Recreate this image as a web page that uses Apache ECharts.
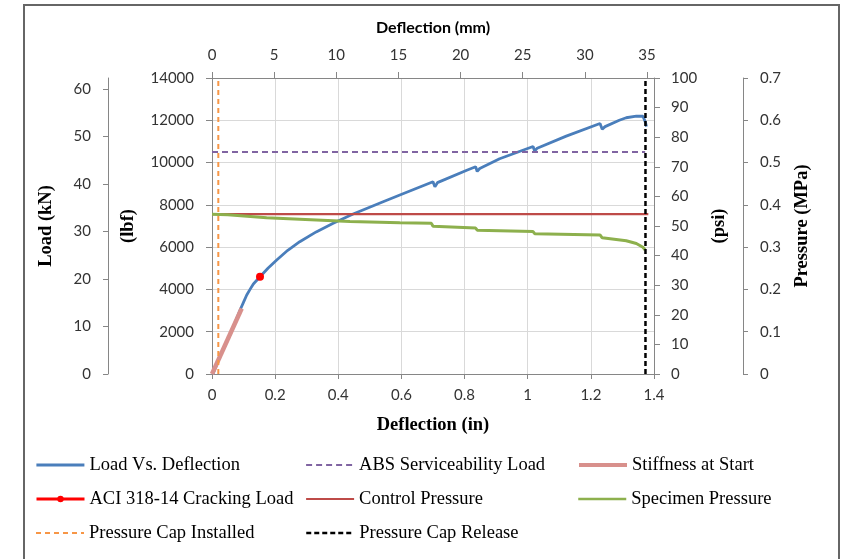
<!DOCTYPE html>
<html><head><meta charset="utf-8">
<script src="https://cdn.jsdelivr.net/npm/echarts@6/dist/echarts.min.js"></script>
<style>html,body{margin:0;padding:0;background:#fff}#c{width:846px;height:559px}</style>
</head><body><div id="c"></div>
<script>
// ---- data (deflection in inches) ----
const loadDefl = [0.003, 0.025, 0.057, 0.089, 0.100, 0.110, 0.120, 0.131, 0.152, 0.178, 0.205, 0.240, 0.278, 0.330, 0.384, 0.447, 0.542, 0.595, 0.700, 0.706, 0.714, 0.807, 0.835, 0.840, 0.848, 0.911, 1.017, 1.022, 1.030, 1.122, 1.229, 1.236, 1.245, 1.290, 1.312, 1.344, 1.365, 1.373, 1.376];
const loadLbf  = [0, 818, 1845, 3027, 3400, 3736, 3990, 4257, 4600, 5010, 5392, 5850, 6258, 6720, 7127, 7568, 8150, 8466, 9095, 8850, 9050, 9640, 9800, 9580, 9720, 10180, 10760, 10540, 10680, 11250, 11850, 11580, 11700, 12000, 12120, 12200, 12190, 11900, 11700];
const absDefl = [0, 1.372];
const absLbf  = [10500, 10500];
const stiffDefl = [0, 0.094];
const stiffLbf  = [0, 3100];
const aciDefl = [0.152];
const aciLbf  = [4600];
const controlDefl = [0, 1.382];
const controlPsi  = [54, 54];
const specDefl = [0, 0.05, 0.173, 0.278, 0.437, 0.595, 0.695, 0.700, 0.835, 0.840, 1.017, 1.022, 1.229, 1.236, 1.312, 1.344, 1.365, 1.372];
const specPsi  = [54.0, 53.8, 52.8, 52.3, 51.5, 51.1, 50.9, 49.9, 49.3, 48.6, 48.1, 47.4, 47.0, 46.0, 45.0, 44.1, 42.8, 41.9];
const capInstDefl = [0.02, 0.02];
const capInstLbf  = [0, 14000];
const capRelDefl = [1.373, 1.373];
const capRelLbf  = [0, 14000];
// ---- tick labels ----
const mmTicks = [0, 5, 10, 15, 20, 25, 30, 35];
const kNTicks = [0, 10, 20, 30, 40, 50, 60];

const zip = (a, b) => a.map((v, i) => [v, b[i]]);
const TICKF = 'Lato, "Open Sans", sans-serif';
const SERIF = '"Liberation Serif", "Times New Roman", serif';
const axisGray = '#868686';
const lblStyle = {fontFamily: TICKF, fontSize: 15, color: '#333'};
const nameSerif = {fontFamily: SERIF, fontWeight: 'bold', fontSize: 18.5, color: '#000'};

const chart = echarts.init(document.getElementById('c'), null, {renderer: 'canvas'});

const legendPos = [
  ['Load Vs. Deflection', 35, 465, 2.8],
  ['ABS Serviceability Load', 305, 465, 2.2],
  ['Stiffness at Start', 577, 465, 4],
  ['ACI 318-14 Cracking Load', 35, 499, 3],
  ['Control Pressure', 305, 499, 2.2],
  ['Specimen Pressure', 577, 499, 2.5],
  ['Pressure Cap Installed', 35, 533, 2],
  ['Pressure Cap Release', 305, 533, 2.5]
];

const legends = legendPos.map(([n, x, y, w]) => {
  const isAci = n === 'ACI 318-14 Cracking Load';
  const lg = {
    data: [n], left: x, top: y - 10, padding: 0, itemGap: 0,
    itemWidth: 48, itemHeight: isAci ? 8 : 14,
    lineStyle: {width: w},
    textStyle: {fontFamily: SERIF, fontSize: 18.5, color: '#000', lineHeight: 20},
    selectedMode: false
  };
  if (!isAci) lg.itemStyle = {color: 'rgba(0,0,0,0)', borderWidth: 0, opacity: 0};
  return lg;
});

chart.setOption({
  animation: false,
  backgroundColor: '#fff',
  graphic: [{
    type: 'rect', shape: {x: 24, y: 5, width: 815, height: 600},
    style: {fill: 'none', stroke: '#666', lineWidth: 2}, silent: true
  }],
  legend: legends,
  grid: {left: 212, right: 192, top: 78, bottom: 185, containLabel: false},
  xAxis: [{
    type: 'value', position: 'bottom', min: 0, max: 1.4, interval: 0.2,
    axisLine: {show: true, onZero: false, lineStyle: {color: axisGray}},
    axisTick: {show: true, length: 5, lineStyle: {color: axisGray}},
    axisLabel: Object.assign({margin: 14, formatter: v => String(+v.toFixed(1))}, lblStyle),
    splitLine: {show: true, lineStyle: {color: '#d9d9d9'}},
    name: 'Deflection (in)', nameLocation: 'middle', nameGap: 42, nameTextStyle: nameSerif
  }, {
    type: 'value', position: 'top', min: 0, max: 35.56,
    axisLine: {show: true, onZero: false, lineStyle: {color: axisGray}},
    axisTick: {show: true, length: 6, customValues: mmTicks, lineStyle: {color: axisGray}},
    axisLabel: Object.assign({margin: 15, customValues: mmTicks}, lblStyle),
    splitLine: {show: false},
    name: 'Deflection (mm)', nameLocation: 'middle', nameGap: 42,
    nameTextStyle: {fontFamily: TICKF, fontWeight: 'bold', fontSize: 16, color: '#000'}
  }],
  yAxis: [{
    type: 'value', position: 'left', min: 0, max: 14000, interval: 2000,
    axisLine: {show: true, onZero: false, lineStyle: {color: axisGray}},
    axisTick: {show: true, length: 6, lineStyle: {color: axisGray}},
    axisLabel: Object.assign({margin: 18, formatter: v => String(v)}, lblStyle),
    splitLine: {show: true, lineStyle: {color: '#d9d9d9'}},
    name: '(lbf)', nameLocation: 'middle', nameGap: 74, nameTextStyle: nameSerif
  }, {
    type: 'value', position: 'right', min: 0, max: 100, interval: 10,
    axisLine: {show: true, onZero: false, lineStyle: {color: axisGray}},
    axisTick: {show: true, length: 6, lineStyle: {color: axisGray}},
    axisLabel: Object.assign({margin: 17, formatter: v => String(v)}, lblStyle),
    splitLine: {show: false},
    name: '(psi)', nameLocation: 'middle', nameGap: 56, nameTextStyle: nameSerif
  }, {
    type: 'value', position: 'left', offset: 104, min: 0, max: 62.275,
    axisLine: {show: true, onZero: false, lineStyle: {color: axisGray}},
    axisTick: {show: true, length: 5, customValues: kNTicks, lineStyle: {color: axisGray}},
    axisLabel: Object.assign({margin: 17, customValues: kNTicks}, lblStyle),
    splitLine: {show: false},
    name: 'Load (kN)', nameLocation: 'middle', nameGap: 52, nameTextStyle: nameSerif
  }, {
    type: 'value', position: 'right', offset: 89, min: 0, max: 0.7, interval: 0.1,
    axisLine: {show: true, onZero: false, lineStyle: {color: axisGray}},
    axisTick: {show: true, length: 5, lineStyle: {color: axisGray}},
    axisLabel: Object.assign({margin: 17, formatter: v => v === 0 ? '0' : v.toFixed(1)}, lblStyle),
    splitLine: {show: false},
    name: 'Pressure (MPa)', nameLocation: 'middle', nameGap: 50, nameTextStyle: nameSerif
  }],
  series: [{
    name: 'Load Vs. Deflection', type: 'line', xAxisIndex: 0, yAxisIndex: 0, symbol: 'none',
    data: zip(loadDefl, loadLbf), lineStyle: {color: '#4A7EBB', width: 2.8}, itemStyle: {color: '#4A7EBB'}
  }, {
    name: 'ABS Serviceability Load', type: 'line', yAxisIndex: 0, symbol: 'none',
    data: zip(absDefl, absLbf), lineStyle: {color: '#8064A2', width: 2.2, type: [6, 4]}, itemStyle: {color: '#8064A2'}
  }, {
    name: 'Stiffness at Start', type: 'line', yAxisIndex: 0, symbol: 'none',
    data: zip(stiffDefl, stiffLbf), lineStyle: {color: '#D8908C', width: 4.5}, itemStyle: {color: '#D8908C'}
  }, {
    name: 'ACI 318-14 Cracking Load', type: 'line', yAxisIndex: 0, symbol: 'circle', symbolSize: 8,
    data: zip(aciDefl, aciLbf), lineStyle: {color: '#FF0000', width: 3}, itemStyle: {color: '#FF0000'}
  }, {
    name: 'Control Pressure', type: 'line', yAxisIndex: 1, symbol: 'none',
    data: zip(controlDefl, controlPsi), lineStyle: {color: '#BE4B48', width: 2.2}, itemStyle: {color: '#BE4B48'}
  }, {
    name: 'Specimen Pressure', type: 'line', yAxisIndex: 1, symbol: 'none',
    data: zip(specDefl, specPsi), lineStyle: {color: '#8DB04D', width: 3}, itemStyle: {color: '#8DB04D'}
  }, {
    name: 'Pressure Cap Installed', type: 'line', yAxisIndex: 0, symbol: 'none',
    data: zip(capInstDefl, capInstLbf), lineStyle: {color: '#F79646', width: 2, type: [5, 4]}, itemStyle: {color: '#F79646'}
  }, {
    name: 'Pressure Cap Release', type: 'line', yAxisIndex: 0, symbol: 'none',
    data: zip(capRelDefl, capRelLbf), lineStyle: {color: '#000000', width: 2.5, type: [5, 3]}, itemStyle: {color: '#000000'}
  }]
});
</script>
</body></html>
